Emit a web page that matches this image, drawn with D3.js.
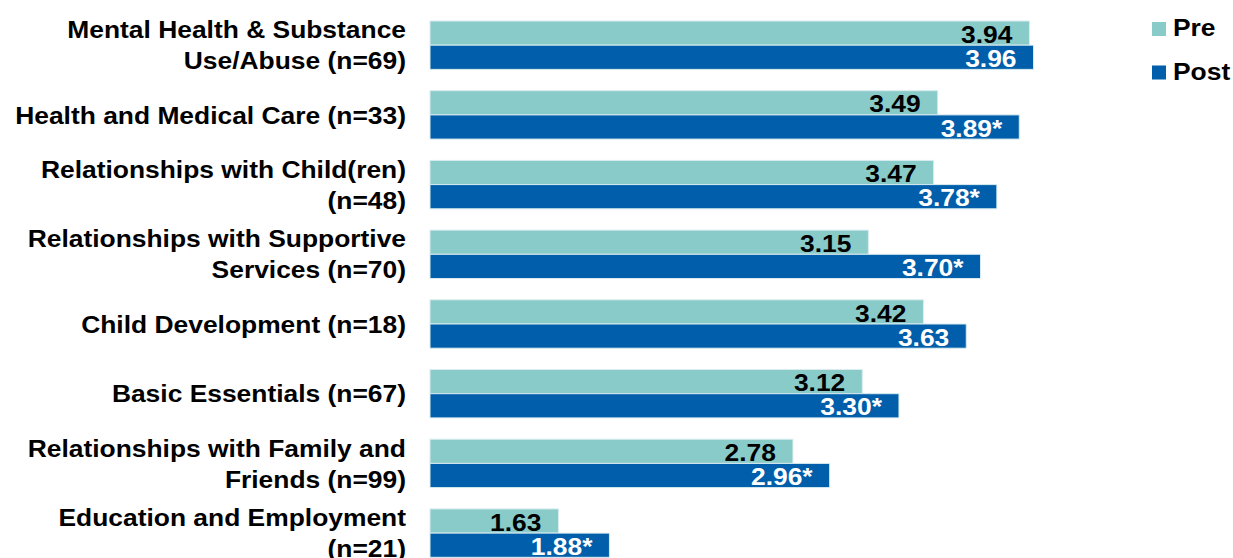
<!DOCTYPE html>
<html>
<head>
<meta charset="utf-8">
<script src="https://cdn.jsdelivr.net/npm/d3@7"></script>
<style>
  html, body { margin: 0; padding: 0; background: #ffffff; }
  svg { display: block; }
  text { font-family: "Liberation Sans", Arial, sans-serif; font-weight: bold; }
</style>
</head>
<body>
<svg id="chart" width="1233" height="558"></svg>
<script>
// Category labels (each entry is a list of lines)
const categories = [
  ["Mental Health & Substance", "Use/Abuse (n=69)"],
  ["Health and Medical Care (n=33)"],
  ["Relationships with Child(ren)", "(n=48)"],
  ["Relationships with Supportive", "Services (n=70)"],
  ["Child Development (n=18)"],
  ["Basic Essentials (n=67)"],
  ["Relationships with Family and", "Friends (n=99)"],
  ["Education and Employment", "(n=21)"]
];
const seriesNames = ["Pre", "Post"];
const preValues  = [3.94, 3.49, 3.47, 3.15, 3.42, 3.12, 2.78, 1.63];
const postValues = [3.96, 3.89, 3.78, 3.70, 3.63, 3.30, 2.96, 1.88];
// Post scores marked as significant change
const postSignificant = [false, true, true, true, false, true, true, true];

const colors = { Pre: "#89CBC8", Post: "#005EAA" };
const labelColors = { Pre: "#000000", Post: "#ffffff" };
const stretch = 1.1;   // wide bold lettering
const fontSize = 24;

const svg = d3.select("#chart");

const keys = categories.map((c, i) => i);
const y = d3.scaleBand()
  .domain(keys)
  .range([21, 557.3])
  .paddingInner(0.306)
  .paddingOuter(0);

const ySub = d3.scaleBand()
  .domain(seriesNames)
  .range([0, y.bandwidth()])
  .padding(0);

const x = d3.scaleLinear()
  .domain([1, 5])
  .range([430, 1245.6]);

const rows = keys.map(i => ({
  i,
  lines: categories[i],
  bars: [
    { series: "Pre", value: preValues[i], label: preValues[i].toFixed(2) },
    { series: "Post", value: postValues[i], label: postValues[i].toFixed(2) + (postSignificant[i] ? "*" : "") }
  ]
}));

function place(sel, fx, fy) {
  return sel.attr("transform", d => `translate(${fx(d)},${fy(d)}) scale(${stretch},1)`);
}

// Category labels, right aligned beside the bars
const lineH = 31;
const labelG = svg.append("g");
rows.forEach(r => {
  const cy = y(r.i) + y.bandwidth() / 2;
  const n = r.lines.length;
  r.lines.forEach((ln, k) => {
    labelG.append("text")
      .attr("transform", `translate(406,${cy + (k - (n - 1) / 2) * lineH}) scale(${stretch},1)`)
      .attr("dy", "0.36em")
      .attr("text-anchor", "end")
      .attr("font-size", fontSize)
      .attr("fill", "#000")
      .text(ln);
  });
});

// Bars
const groups = svg.append("g").selectAll("g")
  .data(rows)
  .join("g")
  .attr("transform", d => `translate(0,${y(d.i)})`);

groups.selectAll("rect")
  .data(d => d.bars)
  .join("rect")
  .attr("x", x(1))
  .attr("y", d => ySub(d.series))
  .attr("width", d => x(d.value) - x(1))
  .attr("height", ySub.bandwidth())
  .attr("fill", d => colors[d.series])
  .attr("stroke", "#d9ecf0")
  .attr("stroke-width", 1);

// Value labels inside the bar ends
place(groups.selectAll("text")
  .data(d => d.bars)
  .join("text"),
  d => x(d.value) - 17,
  d => ySub(d.series) + ySub.bandwidth() - 2.5)
  .attr("text-anchor", "end")
  .attr("font-size", fontSize)
  .attr("fill", d => labelColors[d.series])
  .text(d => d.label);

// Legend
const legend = svg.append("g").selectAll("g")
  .data(seriesNames)
  .join("g")
  .attr("transform", (d, i) => `translate(1152,${22 + i * 43.5})`);
legend.append("rect")
  .attr("width", 14)
  .attr("height", 14)
  .attr("fill", d => colors[d]);
legend.append("text")
  .attr("transform", `translate(21,14) scale(${stretch},1)`)
  .attr("font-size", fontSize)
  .attr("fill", "#000")
  .text(d => d);
</script>
</body>
</html>
